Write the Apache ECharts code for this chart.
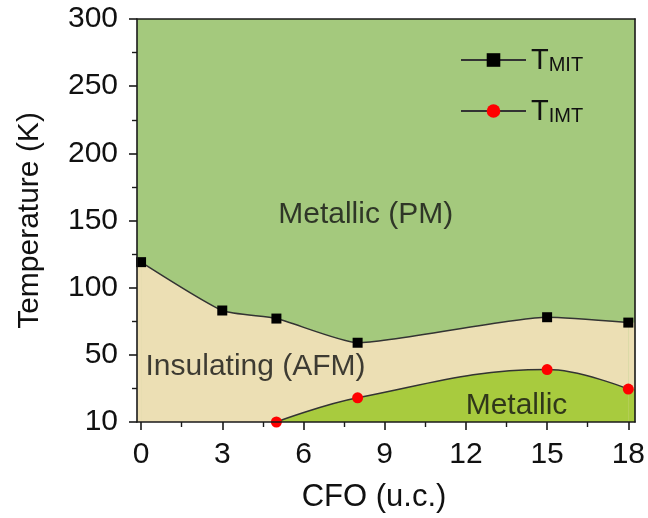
<!DOCTYPE html>
<html>
<head>
<meta charset="utf-8">
<script src="https://cdn.jsdelivr.net/npm/echarts@6/dist/echarts.min.js"></script>
<style>html,body{margin:0;padding:0;background:#fff;}#c{width:648px;height:518px;}</style>
</head>
<body>
<div id="c"></div>
<script>
// ---- data ----
const mitX = [0, 3, 5, 8, 15, 18];
const mitY = [119, 83, 77, 59, 78, 74];
const imtX = [5, 8, 15, 18];
const imtY = [0, 18, 39, 24.5];
const xTicks = [0, 3, 6, 9, 12, 15, 18];
const xMinorTicks = [1.5, 4.5, 7.5, 10.5, 13.5, 16.5];
const yTickValues = [0, 50, 100, 150, 200, 250, 300];
const yTickLabels = ['10', '50', '100', '150', '200', '250', '300'];
const regionText = ['Metallic (PM)', 'Insulating (AFM)', 'Metallic'];
const regionX = [8.3, 4.23, 13.87];
const regionY = [154, 41, 12];

const X_MIN = -0.15, X_MAX = 18.25;
const FONT = 'Liberation Sans, Arial, sans-serif';
const C_PM = '#a4c97d', C_AFM = '#ecdfb4', C_MET = '#a8cb3e', C_LINE = '#333333';

const zip = (xs, ys) => xs.map((x, i) => [x, ys[i]]);
const mit = zip(mitX, mitY);
const imt = zip(imtX, imtY);
const last = a => a[a.length - 1];
// thin strips between the end points and the plot frame, holding the end values
const mitEdgeL = [[X_MIN, mitY[0]], [mitX[0], mitY[0]]];
const mitEdgeR = [[last(mitX), last(mitY)], [X_MAX, last(mitY)]];
const imtEdgeR = [[last(imtX), last(imtY)], [X_MAX, last(imtY)]];

const edge = (data, color, z) => ({type: 'line', data, smooth: false, showSymbol: false, silent: true,
  lineStyle: {width: 0, opacity: 0}, areaStyle: {color, opacity: 1}, z});

const chart = echarts.init(document.getElementById('c'), null, {renderer: 'canvas'});
const axisLine = {show: true, onZero: false, lineStyle: {color: '#1a1a1a', width: 1.6}};
chart.setOption({
  animation: false,
  backgroundColor: '#ffffff',
  grid: {left: 137, right: 11, top: 19, bottom: 95, show: true, backgroundColor: C_PM, borderWidth: 0},
  xAxis: [
    {type: 'value', min: X_MIN, max: X_MAX, position: 'bottom', z: 10,
     axisLine: axisLine, splitLine: {show: false},
     axisTick: {show: true, customValues: xTicks, length: 8, inside: false, lineStyle: {color: '#1a1a1a', width: 1.6}},
     axisLabel: {customValues: xTicks, margin: 18, fontSize: 30, color: '#111', fontFamily: FONT},
     name: 'CFO (u.c.)', nameLocation: 'middle', nameGap: 60,
     nameTextStyle: {fontSize: 31, color: '#111', fontFamily: FONT, padding: [0, 24, 0, 0]}},
    {type: 'value', min: X_MIN, max: X_MAX, position: 'bottom', z: 10,
     axisLine: {show: false, onZero: false}, splitLine: {show: false}, axisLabel: {show: false},
     axisTick: {show: true, customValues: xMinorTicks, length: 5, lineStyle: {color: '#1a1a1a', width: 1.4}}},
    {type: 'value', min: X_MIN, max: X_MAX, position: 'top', z: 10,
     axisLine: axisLine, splitLine: {show: false}, axisLabel: {show: false}, axisTick: {show: false}}
  ],
  yAxis: [
    {type: 'value', min: 0, max: 300, interval: 50, position: 'left', z: 10,
     axisLine: axisLine, splitLine: {show: false},
     axisTick: {show: true, length: 8, lineStyle: {color: '#1a1a1a', width: 1.6}},
     minorTick: {show: true, splitNumber: 2, length: 5, lineStyle: {color: '#1a1a1a', width: 1.4}},
     axisLabel: {margin: 19, fontSize: 30, color: '#111', fontFamily: FONT,
       formatter: v => { const i = yTickValues.indexOf(v); return i >= 0 ? yTickLabels[i] : ''; }},
     name: 'Temperature (K)', nameLocation: 'middle', nameGap: 92,
     nameTextStyle: {fontSize: 30, color: '#111', fontFamily: FONT}},
    {type: 'value', min: 0, max: 300, position: 'right', z: 10,
     axisLine: axisLine, splitLine: {show: false}, axisLabel: {show: false}, axisTick: {show: false}}
  ],
  legend: {
    orient: 'vertical', left: 460, top: 46, padding: 0, itemWidth: 65, itemHeight: 17, itemGap: 22,
    data: ['MIT', 'IMT'],
    formatter: n => '{t|T}{s|' + n + '}',
    textStyle: {fontFamily: FONT, color: '#111',
      rich: {t: {fontSize: 29, fontFamily: FONT, color: '#111', verticalAlign: 'bottom', lineHeight: 30},
             s: {fontSize: 20, fontFamily: FONT, color: '#111', verticalAlign: 'bottom', lineHeight: 30, padding: [4, 0, 0, 0]}}}
  },
  series: [
    edge(mitEdgeL, C_AFM, 2),
    edge(mitEdgeR, C_AFM, 2),
    {name: 'MIT', type: 'line', data: mit, smooth: 0.18, symbol: 'rect', symbolSize: 10,
     itemStyle: {color: '#000'}, lineStyle: {color: C_LINE, width: 1.5},
     areaStyle: {color: C_AFM, opacity: 1}, z: 2},
    edge(imtEdgeR, C_MET, 3),
    {name: 'IMT', type: 'line', data: imt, smooth: 0.4, symbol: 'circle', symbolSize: 11,
     itemStyle: {color: '#ff0000'}, lineStyle: {color: C_LINE, width: 1.5},
     areaStyle: {color: C_MET, opacity: 1}, z: 3},
    {name: 'labels', type: 'scatter', symbolSize: 0, silent: true, z: 4,
     data: regionText.map((t, i) => ({name: t, value: [regionX[i], regionY[i]]})),
     label: {show: true, position: 'inside', formatter: p => p.name, fontSize: 30, color: '#111', fontFamily: FONT}}
  ]
});
</script>
</body>
</html>
